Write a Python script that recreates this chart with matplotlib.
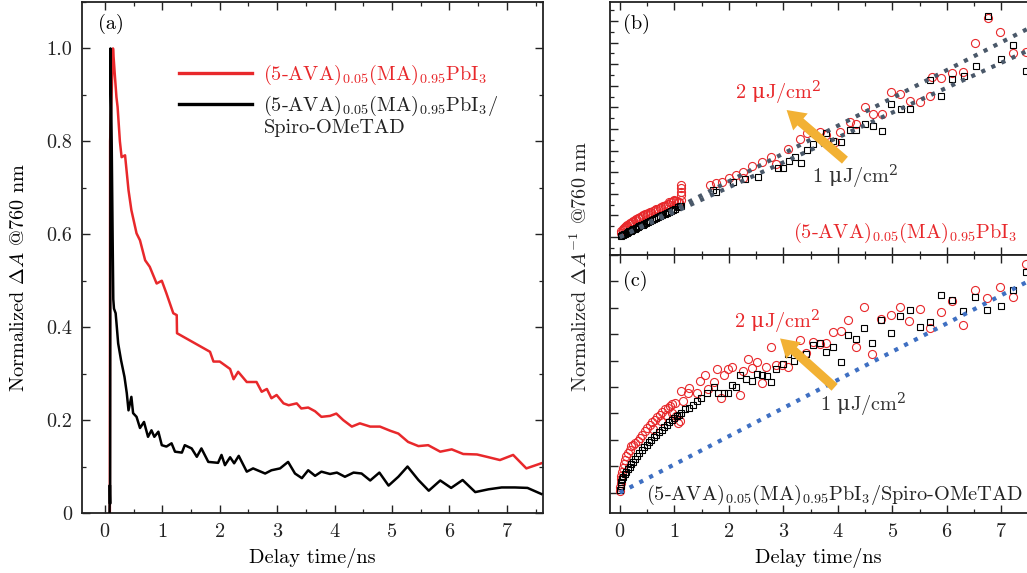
import numpy as np
import matplotlib.pyplot as plt
from matplotlib.ticker import MultipleLocator, FixedLocator, FixedFormatter

plt.rcParams['font.family'] = ['cmr10', 'DejaVu Serif']
plt.rcParams['mathtext.fontset'] = 'cm'
plt.rcParams['axes.formatter.use_mathtext'] = True
plt.rcParams['font.size'] = 14.6

# ---- panel (a): normalized transient absorption ----
t_red = [0.085, 0.09, 0.14, 0.17, 0.20, 0.22, 0.26, 0.29, 0.35, 0.41, 0.46, 0.55, 0.61, 0.70,
         0.78, 0.90, 0.99, 1.07, 1.19, 1.25, 1.255, 1.83, 1.89, 2.0, 2.18, 2.24, 2.32, 2.47,
         2.64, 2.73, 2.82, 2.9, 2.99, 3.11, 3.2, 3.34, 3.42, 3.54, 3.66, 3.77, 3.92, 4.03,
         4.15, 4.3, 4.44, 4.62, 4.79, 4.97, 5.11, 5.28, 5.46, 5.63, 5.84, 6.04, 6.24, 6.48,
         6.65, 6.88, 7.11, 7.34, 7.6]
a_red = [0.0, 0.80, 1.0, 0.946, 0.895, 0.874, 0.80, 0.766, 0.77, 0.695, 0.652, 0.602, 0.587, 0.544,
         0.53, 0.494, 0.50, 0.473, 0.43, 0.426, 0.387, 0.347, 0.326, 0.326, 0.31, 0.288, 0.304, 0.282,
         0.282, 0.261, 0.267, 0.247, 0.254, 0.236, 0.232, 0.236, 0.225, 0.227, 0.219, 0.207, 0.209, 0.214,
         0.20, 0.186, 0.193, 0.186, 0.186, 0.177, 0.171, 0.153, 0.144, 0.146, 0.132, 0.137, 0.127, 0.126,
         0.121, 0.114, 0.125, 0.096, 0.107]

t_blk = [0.08, 0.085, 0.09, 0.096, 0.117, 0.134, 0.145, 0.157, 0.186, 0.2, 0.23, 0.28, 0.34, 0.38,
         0.41, 0.46, 0.49, 0.55, 0.61, 0.68, 0.75, 0.81, 0.86, 0.93, 0.99, 1.07, 1.16, 1.22, 1.34,
         1.39, 1.51, 1.6, 1.68, 1.8, 1.97, 2.03, 2.09, 2.18, 2.25, 2.33, 2.47, 2.58, 2.79, 2.9,
         3.05, 3.19, 3.31, 3.43, 3.54, 3.66, 3.77, 3.92, 4.04, 4.18, 4.33, 4.47, 4.62, 4.78, 4.94,
         5.11, 5.27, 5.46, 5.64, 5.84, 6.03, 6.23, 6.45, 6.68, 6.91, 7.14, 7.36, 7.6]
a_blk = [0.0, 0.06, 0.02, 1.0, 0.80, 0.587, 0.46, 0.44, 0.43, 0.41, 0.365, 0.329, 0.293, 0.258,
         0.221, 0.25, 0.215, 0.207, 0.183, 0.196, 0.164, 0.178, 0.164, 0.175, 0.146, 0.143, 0.15, 0.132, 0.13,
         0.146, 0.139, 0.121, 0.139, 0.11, 0.108, 0.125, 0.103, 0.12, 0.107, 0.123, 0.089, 0.096, 0.085, 0.092,
         0.096, 0.11, 0.085, 0.075, 0.092, 0.08, 0.089, 0.084, 0.087, 0.078, 0.087, 0.085, 0.07, 0.087, 0.059,
         0.078, 0.10, 0.071, 0.048, 0.07, 0.054, 0.071, 0.045, 0.051, 0.055, 0.055, 0.054, 0.041]

# ---- panel (b): (5-AVA)0.05(MA)0.95PbI3, inverse signal ----
b_red_t = [0.02, 0.03, 0.05, 0.065, 0.08, 0.1, 0.12, 0.14, 0.16, 0.18, 0.2, 0.225, 0.25, 0.275,
           0.3, 0.325, 0.35, 0.375, 0.4, 0.43, 0.46, 0.49, 0.52, 0.55, 0.58, 0.61, 0.64, 0.67,
           0.7, 0.73, 0.76, 0.79, 0.82, 0.85, 0.88, 0.91, 0.94, 0.97, 1.0, 1.03, 1.06, 1.09,
           1.13, 1.13, 1.13, 1.13, 1.13,
           1.65, 1.76, 1.87, 2.0, 2.14, 2.26, 2.26, 2.43, 2.6, 2.78, 2.86, 3.09, 3.3, 3.43, 3.67,
           3.79, 3.94, 4.04, 4.22, 4.34, 4.5, 4.65, 4.81, 4.98, 5.14, 5.32, 5.5, 5.69, 5.72, 5.9,
           6.1, 6.3, 6.52, 6.75, 6.98, 7.22, 7.45]
b_red_y = [1.2, 1.26, 1.32, 1.37, 1.42, 1.47, 1.52, 1.56, 1.6, 1.64, 1.67, 1.72, 1.76, 1.8,
           1.83, 1.87, 1.9, 1.93, 1.97, 2.01, 2.05, 2.09, 2.12, 2.15, 2.18, 2.21, 2.25, 2.28,
           2.31, 2.34, 2.38, 2.42, 2.46, 2.5, 2.55, 2.6, 2.64, 2.68, 2.72, 2.66, 2.6, 2.62,
           2.71, 2.94, 3.1, 3.25, 3.41,
           3.41, 3.5, 3.56, 3.72, 3.87, 4.02, 3.72, 4.3, 4.49, 4.69, 4.38, 5.08, 5.52, 5.8, 5.88,
           5.72, 5.41, 5.88, 6.31, 6.23, 7.03, 6.68, 6.69, 7.73, 7.61, 7.31, 7.26, 7.53, 8.42, 8.35,
           8.6, 8.62, 10.0, 11.16, 10.48, 9.5, 9.58]
b_blk_t = [0.02, 0.04, 0.06, 0.08, 0.1, 0.125, 0.15, 0.175, 0.2, 0.225, 0.25, 0.275, 0.3, 0.33,
           0.36, 0.39, 0.42, 0.45, 0.48, 0.515, 0.55, 0.585, 0.62, 0.66, 0.7, 0.74, 0.78, 0.82,
           0.86, 0.9, 0.94, 0.98, 1.02, 1.06, 1.1, 1.13,
           1.71, 1.77, 2.08, 2.3, 2.54, 2.9, 3.0, 3.11, 3.21, 3.32, 3.43, 3.55,
           3.55, 3.79, 3.91, 4.05, 4.22, 4.34, 4.5, 4.65, 4.81, 4.98, 5.15, 5.32, 5.69, 5.9, 6.1,
           6.31, 6.53, 6.75, 6.99, 7.22, 7.45]
b_blk_y = [1.05, 1.08, 1.1, 1.13, 1.16, 1.19, 1.22, 1.26, 1.3, 1.33, 1.36, 1.39, 1.42, 1.46,
           1.5, 1.54, 1.58, 1.62, 1.66, 1.7, 1.75, 1.79, 1.83, 1.88, 1.93, 1.97, 2.02, 2.07,
           2.12, 2.17, 2.22, 2.27, 2.32, 2.37, 2.42, 2.45,
           3.18, 3.1, 3.56, 3.7, 3.78, 4.2, 4.21, 4.5, 4.69, 4.41, 5.01, 5.32,
           5.8, 5.83, 5.45, 5.38, 5.95, 5.95, 6.22, 6.14, 5.92, 7.15, 6.92, 6.92, 8.28, 7.53, 8.31,
           8.45, 8.93, 11.23, 9.24, 9.89, 8.69]
b_fit_t = [0.0, 7.6]
b_fit_hi = [1.0, 10.79]
b_fit_lo = [1.0, 9.76]

# ---- panel (c): (5-AVA)0.05(MA)0.95PbI3/Spiro-OMeTAD ----
c_red_t = [0.0, 0.01, 0.015, 0.02, 0.03, 0.04, 0.05, 0.07, 0.09, 0.12, 0.15, 0.18, 0.21, 0.245,
           0.28, 0.325, 0.37, 0.415, 0.46, 0.505, 0.55, 0.595, 0.6, 0.64, 0.685, 0.73, 0.75, 0.78,
           0.83, 0.85, 0.875, 0.92, 0.95, 0.965, 1.01, 1.03, 1.07, 1.1, 1.13, 1.16, 1.25, 1.27,
           1.42, 1.47, 1.56, 1.62, 1.72, 1.78, 1.86, 1.91, 1.99, 2.06, 2.2, 2.26, 2.35, 2.43, 2.52,
           2.6, 2.69, 2.78, 2.87, 2.98, 3.09, 3.3, 3.42, 3.55, 3.67, 3.79, 3.91, 4.05, 4.19, 4.34,
           4.48, 4.63, 4.8, 4.97, 5.14, 5.31, 5.5, 5.69, 5.89, 6.1, 6.3, 6.51, 6.74, 6.97, 7.22, 7.46]
c_red_y = [1.05, 1.2, 1.35, 1.5, 1.65, 1.8, 1.95, 2.1, 2.25, 2.38, 2.5, 2.62, 2.75, 2.8,
           2.88, 2.97, 3.07, 3.2, 3.32, 3.45, 3.58, 3.68, 3.4, 3.77, 3.86, 3.96, 3.7, 4.05,
           4.15, 3.95, 4.22, 4.28, 4.0, 4.35, 4.4, 3.9, 3.64, 3.7, 4.85, 4.47, 4.79, 4.98,
           4.79, 5.23, 5.45, 4.94, 5.19, 5.67, 4.6, 5.45, 5.67, 5.76, 4.7, 5.61, 6.05, 5.71, 5.93,
           5.17, 5.74, 6.5, 5.83, 5.83, 5.74, 6.79, 6.28, 6.69, 6.63, 6.65, 7.07, 7.13, 7.54, 6.52,
           8.02, 6.24, 7.58, 7.73, 8.02, 7.51, 7.96, 7.22, 7.86, 8.25, 7.35, 8.68, 8.38, 8.79, 8.4, 9.67]
c_blk_t = [0.0, 0.015, 0.03, 0.045, 0.06, 0.09, 0.12, 0.15, 0.18, 0.21, 0.24, 0.275, 0.31, 0.355,
           0.4, 0.445, 0.49, 0.535, 0.58, 0.625, 0.67, 0.72, 0.77, 0.815, 0.86, 0.905, 0.95,
           0.995, 1.04, 1.085, 1.13, 1.19, 1.27, 1.35, 1.42, 1.49, 1.6, 1.72, 1.8, 1.91, 1.99,
           2.05, 2.14, 2.2, 2.32, 2.43, 2.52, 2.61, 2.7, 2.78, 2.87, 2.99, 3.09, 3.19, 3.41, 3.54,
           3.67, 3.78, 3.91, 4.05, 4.19, 4.33, 4.48, 4.63, 4.8, 4.97, 5.14, 5.32, 5.5, 5.69, 5.89,
           6.1, 6.3, 6.51, 6.74, 6.99, 7.22, 7.46]
c_blk_y = [1.1, 1.25, 1.42, 1.52, 1.61, 1.7, 1.8, 1.9, 1.99, 2.08, 2.18, 2.27, 2.37, 2.5,
           2.63, 2.72, 2.82, 2.91, 3.0, 3.1, 3.2, 3.3, 3.39, 3.48, 3.58, 3.67, 3.77,
           3.84, 3.9, 3.96, 4.02, 4.15, 4.22, 4.33, 4.48, 4.6, 4.79, 5.0, 4.76, 4.76, 4.79,
           5.06, 5.01, 5.45, 5.29, 5.23, 5.48, 5.45, 5.4, 5.19, 5.7, 5.86, 6.25, 5.99, 6.25, 6.59,
           6.66, 6.31, 6.5, 5.93, 6.97, 6.82, 7.24, 6.65, 7.55, 7.03, 7.7, 7.92, 7.26, 7.45, 8.47,
           8.28, 7.87, 8.4, 7.9, 8.05, 8.66, 9.36]
c_fit_t = [0.0, 7.6]
c_fit_y = [1.0, 9.12]

RED = '#e8282b'
ORANGE = '#f2b134'
DARK = '#222222'
FLUENCE_2 = r'2 $\mathrm{\mu}$J/cm$^2$'
FLUENCE_1 = r'1 $\mathrm{\mu}$J/cm$^2$'


def style_axes(ax, right=True):
    ax.tick_params(which='both', direction='in', top=True, right=right, colors=DARK)
    ax.tick_params(which='major', length=6, width=1.0, pad=7)
    ax.tick_params(which='minor', length=3, width=0.9)
    for sp in ax.spines.values():
        sp.set_linewidth(1.3)
        sp.set_color(DARK)


fig = plt.figure(figsize=(10.27, 5.73), dpi=100)

# (a)
ax_a = fig.add_axes([82 / 1027, 60 / 573, 461 / 1027, 511 / 573])
ax_a.plot(t_red, a_red, color=RED, lw=1.8, zorder=2)
ax_a.plot(t_blk, a_blk, color='black', lw=1.8, zorder=3)
ax_a.set_xlim(-0.4, 7.63)
ax_a.set_ylim(0, 1.1)
ax_a.xaxis.set_major_locator(MultipleLocator(1))
ax_a.xaxis.set_minor_locator(MultipleLocator(0.5))
ax_a.yaxis.set_major_locator(FixedLocator([0, 0.2, 0.4, 0.6, 0.8, 1.0]))
ax_a.yaxis.set_major_formatter(FixedFormatter(['0', '0.2', '0.4', '0.6', '0.8', '1.0']))
ax_a.yaxis.set_minor_locator(MultipleLocator(0.1))
style_axes(ax_a)
ax_a.set_xlabel('Delay time/ns', labelpad=5)
ax_a.set_ylabel(r'Normalized $\Delta A$ @760 nm')
ax_a.yaxis.set_label_coords(-0.118, 0.46)
ax_a.text(0.035, 0.958, '(a)', transform=ax_a.transAxes, va='center', ha='left')

leg_labels = [r'(5-AVA)$_{0.05}$(MA)$_{0.95}$PbI$_3$', r'(5-AVA)$_{0.05}$(MA)$_{0.95}$PbI$_3$/']
h1, = ax_a.plot([], [], color=RED, lw=2.4)
h2, = ax_a.plot([], [], color='black', lw=2.4)
leg = ax_a.legend([h1, h2], leg_labels, loc='upper left', bbox_to_anchor=(0.21, 0.88),
                  frameon=False, handlelength=3.6, handletextpad=0.55, labelspacing=0.3,
                  borderpad=0, borderaxespad=0, labelcolor=[RED, DARK])
ax_a.text(0.395, 0.753, 'Spiro-OMeTAD', transform=ax_a.transAxes, va='center', ha='left', color=DARK)

# (b)
ax_b = fig.add_axes([610 / 1027, 318 / 573, 417 / 1027, 253 / 573])
ax_b.plot(b_red_t, b_red_y, 'o', ms=5.8, mfc='none', mec=RED, mew=0.8, zorder=2)
ax_b.plot(b_blk_t, b_blk_y, 's', ms=4.6, mfc='none', mec='black', mew=0.8, zorder=2)
ax_b.plot(b_fit_t, b_fit_hi, ':', color='#4a5869', lw=3, zorder=3)
ax_b.plot(b_fit_t, b_fit_lo, ':', color='#4a5869', lw=3, zorder=3)
ax_b.set_xlim(-0.18, 7.47)
ax_b.set_ylim(0.17, 11.88)
ax_b.xaxis.set_major_locator(MultipleLocator(1))
ax_b.xaxis.set_minor_locator(MultipleLocator(0.5))
ax_b.yaxis.set_major_locator(MultipleLocator(1))
ax_b.yaxis.set_minor_locator(MultipleLocator(0.5))
style_axes(ax_b, right=False)
ax_b.tick_params(labelbottom=False, labelleft=False)
ax_b.spines['right'].set_visible(False)
ax_b.text(0.03, 0.915, '(b)', transform=ax_b.transAxes, va='center', ha='left')
ax_b.annotate('', xy=(3.06, 6.88), xytext=(4.13, 4.56),
              arrowprops=dict(arrowstyle='simple,head_width=1.1,head_length=0.9,tail_width=0.45',
                              color=ORANGE, lw=0, shrinkA=0, shrinkB=0), zorder=4)
ax_b.text(2.9, 7.67, FLUENCE_2, color=RED, ha='center', va='center', math_fontfamily='dejavuserif')
ax_b.text(4.31, 3.78, FLUENCE_1, color='#333333', ha='center', va='center',
          math_fontfamily='dejavuserif')
ax_b.text(7.3, 1.19, r'(5-AVA)$_{0.05}$(MA)$_{0.95}$PbI$_3$', color=RED, ha='right', va='center')

# (c)
ax_c = fig.add_axes([610 / 1027, 60 / 573, 417 / 1027, 258 / 573])
ax_c.plot(c_red_t, c_red_y, 'o', ms=5.8, mfc='none', mec=RED, mew=0.8, zorder=2)
ax_c.plot(c_blk_t, c_blk_y, 's', ms=4.6, mfc='none', mec='black', mew=0.8, zorder=2)
ax_c.plot(c_fit_t, c_fit_y, ':', color='#3e6fc2', lw=3, zorder=3)
ax_c.set_xlim(-0.18, 7.47)
ax_c.set_ylim(0.23, 10.0)
ax_c.xaxis.set_major_locator(MultipleLocator(1))
ax_c.xaxis.set_minor_locator(MultipleLocator(0.5))
ax_c.yaxis.set_major_locator(MultipleLocator(1))
style_axes(ax_c, right=False)
ax_c.tick_params(labelleft=False)
ax_c.spines['right'].set_visible(False)
ax_c.set_xlabel('Delay time/ns', labelpad=5)
ax_c.text(0.03, 0.9, '(c)', transform=ax_c.transAxes, va='center', ha='left')
ax_c.annotate('', xy=(2.94, 6.84), xytext=(3.94, 4.99),
              arrowprops=dict(arrowstyle='simple,head_width=1.1,head_length=0.9,tail_width=0.45',
                              color=ORANGE, lw=0, shrinkA=0, shrinkB=0), zorder=4)
ax_c.text(2.88, 7.46, FLUENCE_2, color=RED, ha='center', va='center', math_fontfamily='dejavuserif')
ax_c.text(4.46, 4.34, FLUENCE_1, color='#333333', ha='center', va='center',
          math_fontfamily='dejavuserif')
ax_c.text(0.48, 0.91, r'(5-AVA)$_{0.05}$(MA)$_{0.95}$PbI$_3$/Spiro-OMeTAD', color=DARK,
          ha='left', va='center')

fig.text(0.565, 0.535, r'Normalized $\Delta A^{-1}$ @760 nm', rotation=90, ha='center', va='center',
         color=DARK)

fig.savefig('out.png', dpi=100)
